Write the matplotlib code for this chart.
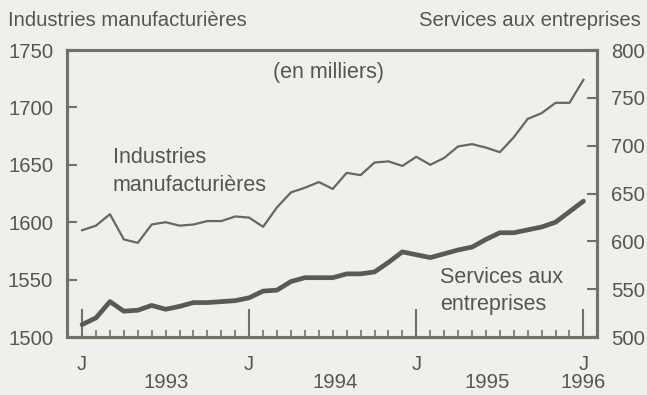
import matplotlib
matplotlib.use("Agg")
import matplotlib.pyplot as plt
import matplotlib.transforms as mtransforms
import numpy as np

# monthly data, Jan 1993 .. Jan 1996 (index 0..36)
mois = np.arange(37)
manufacturieres = [
    1593, 1597, 1607, 1585, 1582, 1598, 1600, 1597, 1598, 1601, 1601, 1605,
    1604, 1596, 1613, 1626, 1630, 1635, 1629, 1643, 1641, 1652, 1653, 1649,
    1657, 1650, 1656, 1666, 1668, 1665, 1661, 1674, 1690, 1695, 1704, 1704,
    1724,
]
services = [
    513, 520, 537, 527, 528, 533, 529, 532, 536, 536, 537, 538,
    541, 548, 549, 558, 562, 562, 562, 566, 566, 568, 578, 589,
    586, 583, 587, 591, 594, 602, 609, 609, 612, 615, 620, 631,
    642,
]
ticks_j = [0, 12, 24, 36]
annees = ["1993", "1994", "1995", "1996"]
pos_annees = [6, 18.2, 29.1, 36]

plt.rcParams["font.family"] = ["Liberation Sans", "DejaVu Sans"]
fond = "#efefec"
gris_txt = "#555555"
gris_cadre = "#6f7366"
gris_ligne = "#666666"
fs = 14.6
fs_note = 15.5

fig = plt.figure(figsize=(6.47, 3.95), dpi=100, facecolor=fond)
ax = fig.add_axes([0.1036, 0.1468, 0.819, 0.7266])
ax.set_facecolor(fond)
ax2 = ax.twinx()

ax.plot(mois, manufacturieres, color=gris_ligne, lw=1.6, zorder=3)
ax2.plot(mois, services, color="#595959", lw=3.4, solid_capstyle="round", zorder=3)

ax.set_xlim(-1.08, 36.97)
ax.set_ylim(1500, 1750)
ax2.set_ylim(500, 800)

ax.set_yticks(np.arange(1500, 1751, 50))
ax2.set_yticks(np.arange(500, 801, 50))
ax.tick_params(axis="y", direction="in", length=7, width=1.5, color=gris_cadre,
               labelsize=fs, labelcolor=gris_txt, pad=10)
ax2.tick_params(axis="y", direction="in", length=7, width=1.5, color=gris_cadre,
                labelsize=fs, labelcolor=gris_txt, pad=10)

ax.set_xticks(ticks_j)
ax.set_xticklabels(["J"] * len(ticks_j))
ax.set_xticks(mois, minor=True)
ax.tick_params(axis="x", which="major", direction="in", length=20, width=1.5,
               color=gris_cadre, labelsize=fs, labelcolor=gris_txt, pad=13)
ax.tick_params(axis="x", which="minor", direction="in", length=5, width=1.2,
               color=gris_cadre)
ax2.tick_params(axis="x", which="both", length=0)

for a in (ax, ax2):
    for s in a.spines.values():
        s.set_color(gris_cadre)
        s.set_linewidth(2.2)

trans = mtransforms.blended_transform_factory(ax.transData, fig.transFigure)
for pos, an in zip(pos_annees, annees):
    ax.text(pos, 1 - 383 / 395, an, transform=trans, ha="center", va="center",
            fontsize=fs, color=gris_txt)

fig.text(8 / 647, 1 - 20 / 395, "Industries manufacturières", ha="left", va="center",
         fontsize=fs, color=gris_txt)
fig.text(641 / 647, 1 - 20 / 395, "Services aux entreprises", ha="right", va="center",
         fontsize=fs, color=gris_txt)

ax.text(17.7, 1730, "(en milliers)", ha="center", va="center", fontsize=fs_note, color=gris_txt)
ax.text(2.2, 1644, "Industries\nmanufacturières", ha="left", va="center",
        fontsize=fs_note, color=gris_txt, linespacing=1.42)
ax2.text(25.7, 548, "Services aux\nentreprises", ha="left", va="center",
         fontsize=fs_note, color=gris_txt, linespacing=1.42)

fig.savefig("out.png", dpi=100, facecolor=fond)
